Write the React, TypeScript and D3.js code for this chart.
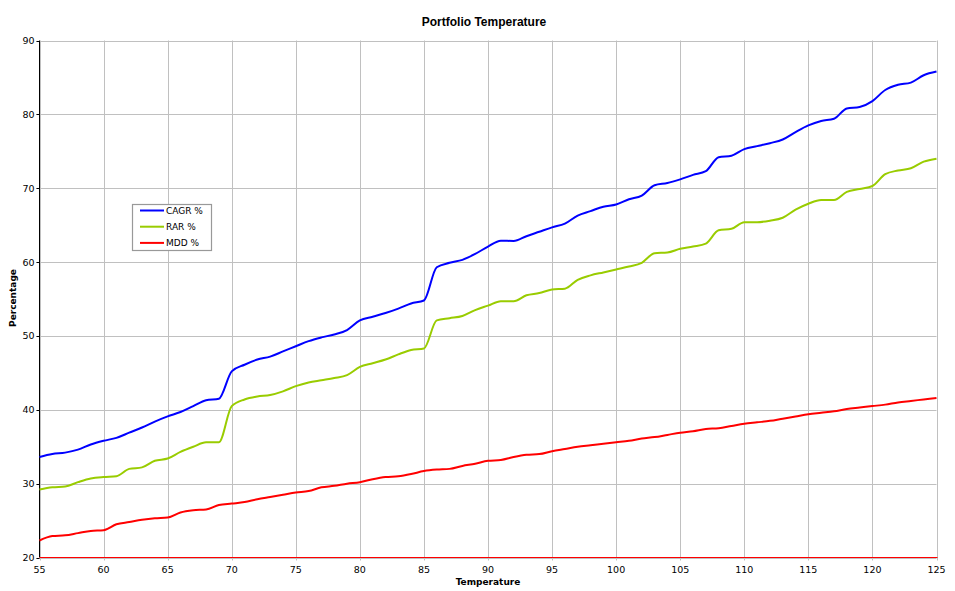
import { useRef, useEffect } from "react";
import * as d3 from "d3";

const temps = d3.range(55, 126);

const cagr = [
  33.6, 34.0, 34.2, 34.6, 35.3, 35.8, 36.2, 36.9, 37.6, 38.4, 39.1, 39.7, 40.5, 41.3, 41.5,
  45.2, 46.1, 46.8, 47.2, 47.9, 48.6, 49.3, 49.8, 50.2, 50.8, 52.1, 52.6, 53.1, 53.7, 54.4,
  54.8, 59.3, 59.9, 60.3, 61.1, 62.1, 62.9, 62.85, 63.5, 64.1, 64.7, 65.2, 66.3, 66.9, 67.5,
  67.8, 68.5, 69.0, 70.4, 70.7, 71.2, 71.8, 72.3, 74.2, 74.4, 75.3, 75.7, 76.1, 76.6, 77.6,
  78.5, 79.1, 79.4, 80.8, 81.0, 81.8, 83.3, 84.0, 84.3, 85.3, 85.8,
];

const rar = [
  29.2, 29.5, 29.6, 30.2, 30.7, 30.9, 31.0, 32.0, 32.2, 33.1, 33.4, 34.3, 35.0, 35.6, 35.6,
  40.5, 41.4, 41.8, 42.0, 42.5, 43.2, 43.7, 44.0, 44.3, 44.7, 45.8, 46.3, 46.8, 47.5, 48.1,
  48.3, 52.1, 52.4, 52.7, 53.5, 54.1, 54.7, 54.7, 55.5, 55.8, 56.3, 56.4, 57.6, 58.2, 58.6,
  59.0, 59.4, 59.9, 61.2, 61.3, 61.8, 62.1, 62.5, 64.3, 64.5, 65.4, 65.4, 65.6, 66.0, 67.1,
  67.9, 68.4, 68.4, 69.5, 69.9, 70.3, 71.9, 72.4, 72.7, 73.6, 74.0,
];

const mdd = [
  22.3, 22.9, 23.0, 23.3, 23.6, 23.7, 24.5, 24.8, 25.1, 25.3, 25.4, 26.1, 26.4, 26.5, 27.1,
  27.3, 27.5, 27.9, 28.2, 28.5, 28.8, 29.0, 29.5, 29.7, 30.0, 30.2, 30.6, 30.9, 31.0, 31.3,
  31.7, 31.9, 32.0, 32.4, 32.7, 33.1, 33.2, 33.6, 33.9, 34.0, 34.4, 34.7, 35.0, 35.2, 35.4,
  35.6, 35.8, 36.1, 36.3, 36.6, 36.9, 37.1, 37.4, 37.5, 37.8, 38.1, 38.3, 38.5, 38.8, 39.1,
  39.4, 39.6, 39.8, 40.1, 40.3, 40.5, 40.7, 41.0, 41.2, 41.4, 41.6,
];

const series = [
  { name: "CAGR %", values: cagr, color: "#0000FF" },
  { name: "RAR %", values: rar, color: "#99CC00" },
  { name: "MDD %", values: mdd, color: "#FF0000" },
];

const xTicks = d3.range(55, 126, 5);
const yTicks = d3.range(20, 91, 10);

const FONT = "Tahoma, 'DejaVu Sans', sans-serif";
const TITLE_FONT = "Arial, 'Liberation Sans', sans-serif";

export default function App() {
  const svgRef = useRef<SVGSVGElement>(null);

  useEffect(() => {
    document.body.style.margin = "0";
    if (!svgRef.current) return;
    const svg = d3.select(svgRef.current);
    svg.selectAll("*").remove();

    const width = 955;
    const height = 591;
    const left = 39.5;
    const right = 936.5;
    const top = 40.5;
    const bottom = 557.5;

    const x = d3.scaleLinear().domain([55, 125]).range([left, right]);
    const y = d3.scaleLinear().domain([20, 90]).range([bottom, top]);

    svg.attr("width", width).attr("height", height).attr("viewBox", `0 0 ${width} ${height}`);
    svg.append("rect").attr("width", width).attr("height", height).attr("fill", "#fff");

    // grid
    svg.append("g")
      .selectAll("line")
      .data(xTicks)
      .join("line")
      .attr("x1", (d) => Math.round(x(d)) + 0.5)
      .attr("x2", (d) => Math.round(x(d)) + 0.5)
      .attr("y1", top)
      .attr("y2", bottom + 3)
      .attr("stroke", "#C0C0C0");

    svg.append("g")
      .selectAll("line")
      .data(yTicks)
      .join("line")
      .attr("x1", left - 3)
      .attr("x2", right)
      .attr("y1", (d) => Math.round(y(d)) + 0.5)
      .attr("y2", (d) => Math.round(y(d)) + 0.5)
      .attr("stroke", "#C0C0C0");

    // y tick marks
    svg.append("g")
      .selectAll("line")
      .data(yTicks)
      .join("line")
      .attr("x1", left - 3)
      .attr("x2", left)
      .attr("y1", (d) => Math.round(y(d)) + 0.5)
      .attr("y2", (d) => Math.round(y(d)) + 0.5)
      .attr("stroke", "#000");

    // axes
    svg.append("line")
      .attr("x1", left).attr("x2", left)
      .attr("y1", top).attr("y2", bottom)
      .attr("stroke", "#000");

    // lines
    const line = d3
      .line<number>()
      .x((_, i) => x(temps[i]))
      .y((d) => y(d))
      .curve(d3.curveMonotoneX);

    series.forEach((s) => {
      svg.append("path")
        .datum(s.values)
        .attr("d", line)
        .attr("fill", "none")
        .attr("stroke", s.color)
        .attr("stroke-width", 2)
        .attr("stroke-linejoin", "round");
    });

    svg.append("line")
      .attr("x1", left).attr("x2", right + 1)
      .attr("y1", bottom).attr("y2", bottom)
      .attr("stroke", "#FF0000");

    // tick labels
    svg.append("g")
      .selectAll("text")
      .data(yTicks)
      .join("text")
      .attr("x", left - 5)
      .attr("y", (d) => y(d) + 3.5)
      .attr("text-anchor", "end")
      .attr("font-family", FONT)
      .attr("font-size", 9.5)
      .text((d) => d);

    svg.append("g")
      .selectAll("text")
      .data(xTicks)
      .join("text")
      .attr("x", (d) => x(d))
      .attr("y", bottom + 15)
      .attr("text-anchor", "middle")
      .attr("font-family", FONT)
      .attr("font-size", 9.5)
      .text((d) => d);

    // titles
    svg.append("text")
      .attr("x", 484)
      .attr("y", 26)
      .attr("text-anchor", "middle")
      .attr("font-family", TITLE_FONT)
      .attr("font-weight", "bold")
      .attr("font-size", 12)
      .text("Portfolio Temperature");

    svg.append("text")
      .attr("x", 488)
      .attr("y", 585)
      .attr("text-anchor", "middle")
      .attr("font-family", FONT)
      .attr("font-weight", "bold")
      .attr("font-size", 9)
      .text("Temperature");

    svg.append("text")
      .attr("transform", "translate(16,298) rotate(-90)")
      .attr("text-anchor", "middle")
      .attr("font-family", FONT)
      .attr("font-weight", "bold")
      .attr("font-size", 9)
      .text("Percentage");

    // legend
    const lg = svg.append("g");
    lg.append("rect")
      .attr("x", 132.5)
      .attr("y", 204.5)
      .attr("width", 79)
      .attr("height", 46)
      .attr("fill", "#fff")
      .attr("stroke", "#999")
      .attr("stroke-width", 1.2);
    series.forEach((s, i) => {
      const yy = 210.5 + i * 16.2;
      lg.append("line")
        .attr("x1", 140).attr("x2", 164)
        .attr("y1", yy).attr("y2", yy)
        .attr("stroke", s.color)
        .attr("stroke-width", 2);
      lg.append("text")
        .attr("x", 166)
        .attr("y", yy + 3.5)
        .attr("font-family", FONT)
        .attr("font-size", 9)
        .text(s.name);
    });
  }, []);

  return <svg ref={svgRef} style={{ display: "block" }} />;
}
